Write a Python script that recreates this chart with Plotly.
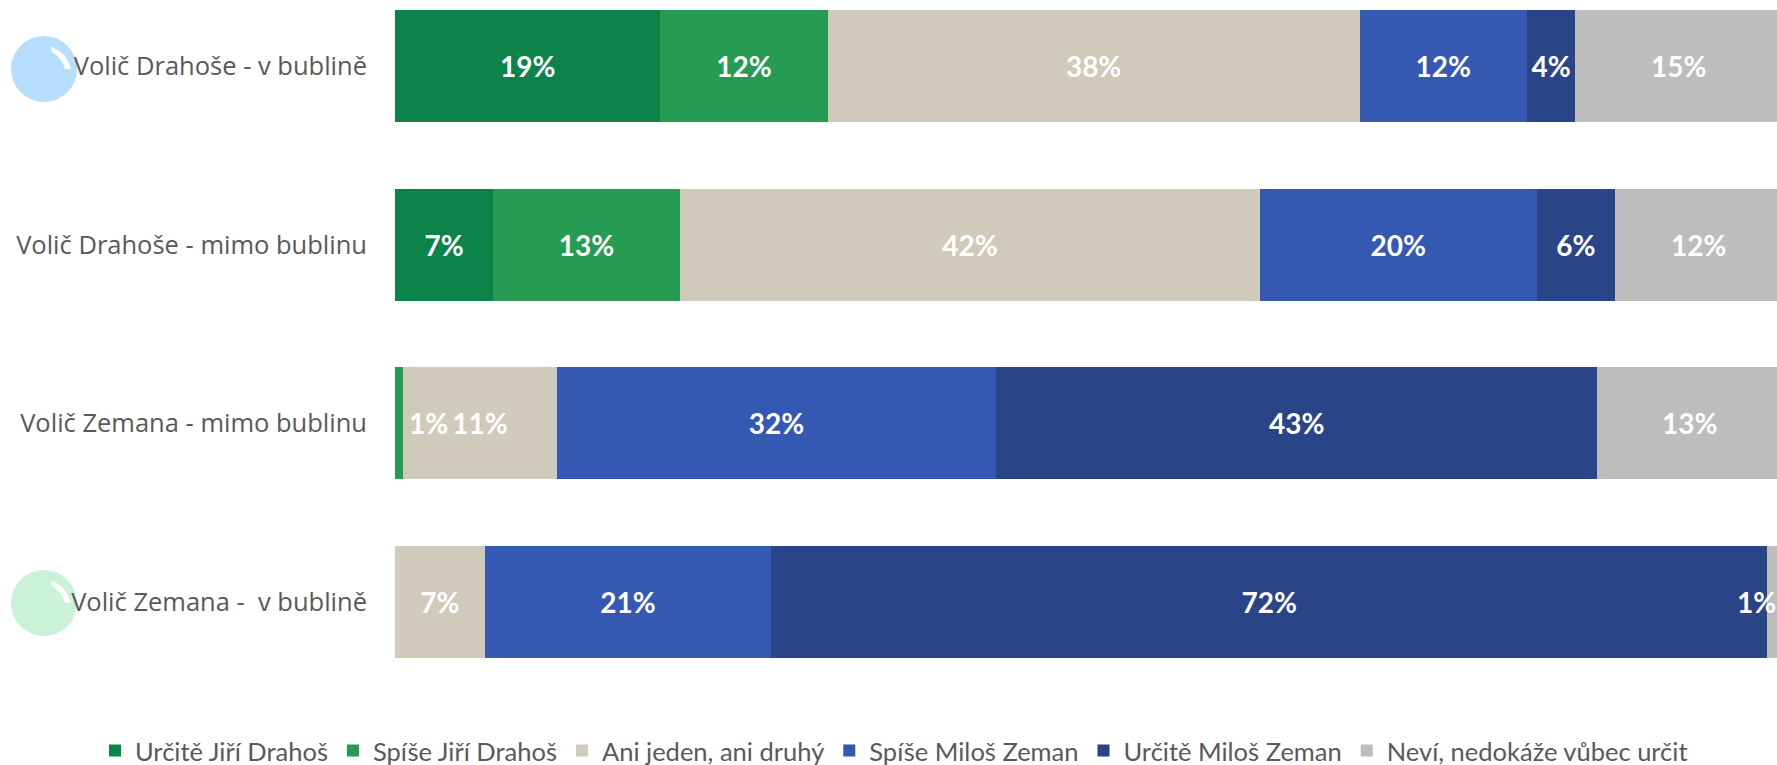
import plotly.graph_objects as go

categories = ["Volič Drahoše - v bublině", "Volič Drahoše - mimo bublinu", "Volič Zemana - mimo bublinu", "Volič Zemana -  v bublině"]
series_names = ["Určitě Jiří Drahoš", "Spíše Jiří Drahoš", "Ani jeden, ani druhý", "Spíše Miloš Zeman", "Určitě Miloš Zeman", "Neví, nedokáže vůbec určit"]
urcite_drahos = [19.2, 7.1, 0, 0]
spise_drahos = [12.1, 13.5, 0.6, 0]
ani_jeden = [38.5, 42.0, 11.1, 6.5]
spise_zeman = [12.1, 20.0, 31.8, 20.7]
urcite_zeman = [3.5, 5.7, 43.5, 72.1]
nevi = [15.0, 12.1, 13.4, 0.7]
labels = [
    ["19%", "7%", "", ""],
    ["12%", "13%", "1%", ""],
    ["38%", "42%", "11%", "7%"],
    ["12%", "20%", "32%", "21%"],
    ["4%", "6%", "43%", "72%"],
    ["15%", "12%", "13%", "1%"],
]
colors = ["#0C8349", "#259C52", "#D0CABA", "#3558B3", "#2A4488", "#BDBDBD"]
series = [urcite_drahos, spise_drahos, ani_jeden, spise_zeman, urcite_zeman, nevi]

LEFT, TOP_H, W, H = 395, 700, 1777, 765
LABEL_FONT = "Lato"
TEXT_FONT = "Open Sans"
LAST = len(series) - 1

fig = go.Figure()
for s_i, (name, vals, col, lab) in enumerate(zip(series_names, series, colors, labels)):
    text = [t if (v >= 2 and s_i != LAST) else "" for v, t in zip(vals, lab)]
    fig.add_trace(go.Bar(
        y=categories, x=vals, name=name, orientation="h",
        marker=dict(color=col, line=dict(width=0)),
        text=text, textposition="inside", insidetextanchor="middle", textangle=0,
        constraintext="none", cliponaxis=False,
        textfont=dict(family=LABEL_FONT, size=28, color="white", weight="bold"),
    ))

annotations = []
for s_i, vals in enumerate(series):
    for c_i, v in enumerate(vals):
        if 0 < v < 2 or s_i == LAST:
            base = sum(series[k][c_i] for k in range(s_i))
            shift = 0
            if v < 2:
                shift = 29 if s_i == 1 else -16
            annotations.append(dict(x=base + v / 2, y=categories[c_i], xref="x", yref="y", text=labels[s_i][c_i],
                                    showarrow=False, xshift=shift,
                                    font=dict(family=LABEL_FONT, size=28, color="white", weight="bold")))


def px_shape(color, **kw):
    return dict(fillcolor=color, line=dict(width=0), layer="below",
                xref="paper", yref="paper", xsizemode="pixel", ysizemode="pixel", xanchor=0, yanchor=1, **kw)


def gloss_path(cx, cy):
    x, y = cx, -cy
    return (f"M{x + 7},{y + 22} Q{x + 22},{y + 18} {x + 27},{y} L{x + 21},{y} "
            f"Q{x + 18},{y + 11} {x + 8},{y + 17} Z")


shapes = []
for cy, col in [(69, "#B7DDFF"), (603, "#C9F2D9")]:
    shapes.append(px_shape(col, type="circle", x0=44 - 33, x1=44 + 33, y0=-cy - 33, y1=-cy + 33))
    shapes.append(px_shape("white", type="path", path=gloss_path(44, cy)))

fig.update_layout(
    width=W, height=H, autosize=False,
    barmode="stack", bargap=0.373,
    margin=dict(l=0, r=0, t=0, b=H - TOP_H, pad=0, autoexpand=False),
    paper_bgcolor="white", plot_bgcolor="white",
    xaxis=dict(range=[0, 100], domain=[LEFT / W, 1], visible=False, fixedrange=True),
    yaxis=dict(type="category", categoryorder="array", categoryarray=categories,
               range=[3.55, -0.37], showgrid=False, showline=False, zeroline=False, ticks="",
               ticklabelstandoff=27, automargin=False, fixedrange=True,
               tickfont=dict(family=TEXT_FONT, size=25.5, color="#595959")),
    legend=dict(orientation="h", x=894 / W, xanchor="center",
                y=-51 / TOP_H, yanchor="middle", traceorder="normal",
                font=dict(family=LABEL_FONT, size=25.5, color="#595959"), itemclick=False, itemdoubleclick=False),
    shapes=shapes, annotations=annotations, showlegend=True,
)

fig.write_html("out.html", config={"displayModeBar": False},
               post_script="document.body.style.margin='0';document.documentElement.style.overflow='hidden';")
